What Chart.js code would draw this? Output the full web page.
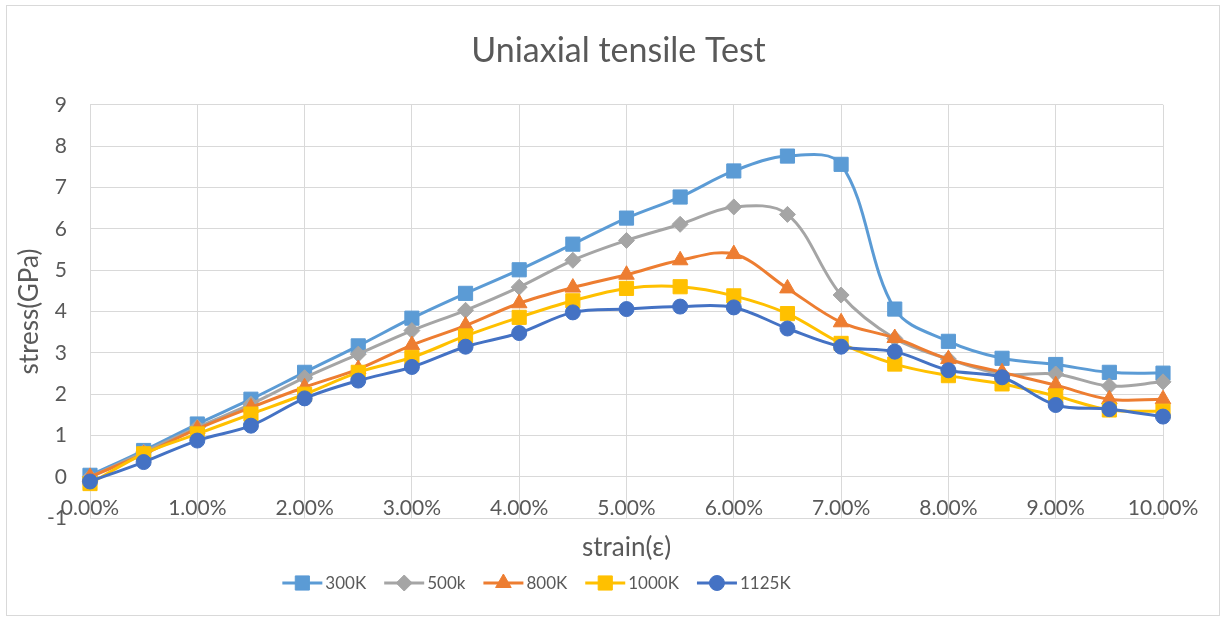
<!DOCTYPE html>
<html>
<head>
<meta charset="utf-8">
<script src="https://cdn.jsdelivr.net/npm/chart.js@4.4.9/dist/chart.umd.min.js"></script>
<style>
  html, body { margin: 0; padding: 0; background: #fff; }
  #frame { position: absolute; left: 6px; top: 5px; width: 1212px; height: 609px; border: 1px solid #d9d9d9; }
</style>
</head>
<body>
<div id="frame"><canvas id="chart"></canvas></div>
<script>
// strain in %, one point every 0.5 %
const strain = [0, 0.5, 1, 1.5, 2, 2.5, 3, 3.5, 4, 4.5, 5, 5.5, 6, 6.5, 7, 7.5, 8, 8.5, 9, 9.5, 10];

// stress (GPa) per temperature
const s300K  = [0.04, 0.64, 1.28, 1.88, 2.53, 3.17, 3.84, 4.44, 5.01, 5.63, 6.26, 6.77, 7.40, 7.76, 7.56, 4.06, 3.28, 2.87, 2.72, 2.53, 2.51];
const s500k  = [0.00, 0.60, 1.20, 1.76, 2.40, 2.97, 3.54, 4.03, 4.59, 5.24, 5.72, 6.11, 6.53, 6.35, 4.40, 3.35, 2.85, 2.49, 2.49, 2.20, 2.30];
const s800K  = [0.00, 0.55, 1.16, 1.68, 2.17, 2.61, 3.19, 3.66, 4.20, 4.58, 4.89, 5.24, 5.39, 4.56, 3.74, 3.36, 2.85, 2.53, 2.22, 1.88, 1.88];
const s1000K = [-0.16, 0.56, 1.04, 1.52, 2.00, 2.53, 2.89, 3.41, 3.86, 4.26, 4.56, 4.60, 4.38, 3.95, 3.23, 2.73, 2.45, 2.25, 1.96, 1.62, 1.59];
const s1125K = [-0.11, 0.36, 0.88, 1.24, 1.90, 2.33, 2.66, 3.15, 3.48, 3.98, 4.06, 4.12, 4.10, 3.59, 3.15, 3.03, 2.58, 2.41, 1.74, 1.64, 1.46];

const seriesLabels = ['300K', '500k', '800K', '1000K', '1125K'];
const seriesValues = [s300K, s500k, s800K, s1000K, s1125K];
const colors = ['#5B9BD5', '#A5A5A5', '#ED7D31', '#FFC000', '#4472C4'];
const markers = ['rect', 'rectRot', 'triangle', 'rect', 'circle'];
const markerSize = [10, 8, 9, 10, 7.5];

const yTicks = { min: -1, max: 9, step: 1 };
const xTicks = { min: 0, max: 10, step: 1 };

const FONT = 'Lato';
const TEXT = '#595959';
const GRID = '#D9D9D9';

// legend drawn by hand so it can show line + marker like Excel
const lineLegend = {
  id: 'lineLegend',
  afterDraw(chart) {
    const ctx = chart.ctx;
    const centerX = 529.5, y = 577;
    const lineLen = 40, gap = 3, space = 18;
    ctx.save();
    ctx.font = '17px ' + FONT;
    const items = chart.data.datasets.map(ds => ({ ds, w: ctx.measureText(ds.label).width }));
    const total = items.reduce((s, it) => s + lineLen + gap + it.w, 0) + space * (items.length - 1);
    let x = centerX - total / 2;
    items.forEach(({ ds, w }) => {
      ctx.strokeStyle = ds.borderColor;
      ctx.lineWidth = 3;
      ctx.beginPath();
      ctx.moveTo(x, y);
      ctx.lineTo(x + lineLen, y);
      ctx.stroke();
      ctx.fillStyle = ds.pointBackgroundColor;
      ctx.strokeStyle = ds.pointBorderColor;
      ctx.lineWidth = 1;
      Chart.helpers.drawPoint(ctx, { pointStyle: ds.pointStyle, radius: ds.pointRadius, rotation: 0, borderWidth: 1 }, x + lineLen / 2, y);
      ctx.fillStyle = TEXT;
      ctx.textAlign = 'left';
      ctx.textBaseline = 'middle';
      ctx.fillText(ds.label, x + lineLen + gap, y + 1);
      x += lineLen + gap + w + space;
    });
    ctx.restore();
  }
};

function build() {
  const datasets = seriesLabels.map((label, i) => ({
    label,
    data: strain.map((x, j) => ({ x, y: seriesValues[i][j] })),
    borderColor: colors[i],
    backgroundColor: colors[i],
    pointBackgroundColor: colors[i],
    pointBorderColor: colors[i],
    pointBorderWidth: 1,
    pointStyle: markers[i],
    pointRadius: markerSize[i],
    borderWidth: 3,
    tension: 0.35,
    fill: false,
    clip: false,
    order: seriesLabels.length - i
  }));

  new Chart(document.getElementById('chart'), {
    type: 'line',
    data: { datasets },
    plugins: [lineLegend],
    options: {
      responsive: true,
      maintainAspectRatio: false,
      animation: false,
      layout: { padding: { left: 11, right: 0, top: 0, bottom: 47.5 } },
      plugins: {
        legend: { display: false },
        tooltip: { enabled: false },
        title: {
          display: true,
          text: 'Uniaxial tensile Test',
          color: TEXT,
          font: { family: FONT, size: 34, weight: 'normal', lineHeight: 1.2 },
          padding: { top: 25, bottom: 33 }
        }
      },
      scales: {
        x: {
          type: 'linear',
          min: xTicks.min,
          max: xTicks.max,
          grid: { color: GRID, lineWidth: 1, drawTicks: false },
          border: { color: GRID },
          ticks: {
            stepSize: xTicks.step,
            mirror: true,
            padding: -3,
            color: TEXT,
            font: { family: FONT, size: 21 },
            maxRotation: 0,
            callback: v => v.toFixed(2) + '%'
          },
          title: {
            display: true,
            text: 'strain(ε)',
            color: TEXT,
            font: { family: FONT, size: 26, lineHeight: 1.2 },
            padding: { top: 20, bottom: 4 }
          }
        },
        y: {
          min: yTicks.min,
          max: yTicks.max,
          grid: { color: GRID, lineWidth: 1, drawTicks: false },
          border: { color: GRID },
          ticks: { stepSize: yTicks.step, padding: 23, color: TEXT, font: { family: FONT, size: 21 } },
          title: {
            display: true,
            text: 'stress(GPa)',
            color: TEXT,
            font: { family: FONT, size: 26, lineHeight: 1 },
            padding: { top: -1, bottom: 0 }
          },
          afterFit(scale) { scale.width = 72; }
        },
        spacer: {
          type: 'linear',
          position: 'right',
          display: true,
          grid: { display: false, drawTicks: false },
          border: { display: false },
          ticks: { display: false },
          afterFit(scale) { scale.width = 56; }
        }
      }
    }
  });
}

Promise.all([
  document.fonts.load('21px ' + FONT),
  document.fonts.load('34px ' + FONT)
]).then(build, build);
</script>
</body>
</html>
